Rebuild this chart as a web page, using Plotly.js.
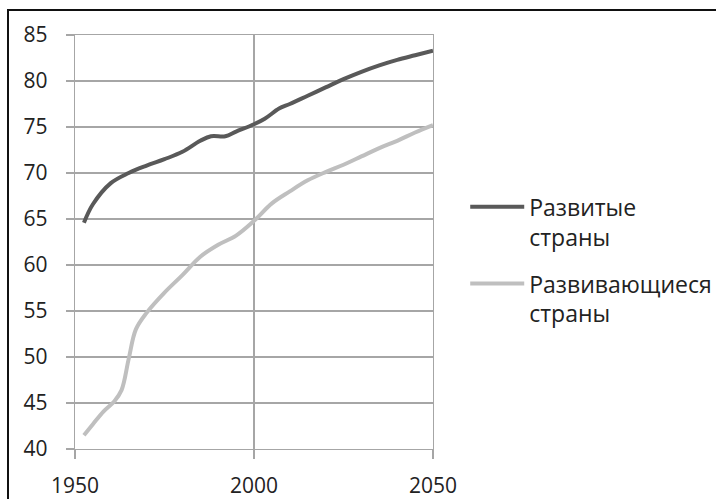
<!DOCTYPE html>
<html>
<head>
<meta charset="utf-8">
<script src="https://cdn.plot.ly/plotly-3.0.1.min.js"></script>
<style>
html,body{margin:0;padding:0;background:#fff;overflow:hidden;}
#chart{width:716px;height:499px;}
</style>
</head>
<body>
<div id="chart"></div>
<script>
// Data
const devYears = [1952.5, 1955, 1960, 1965, 1970, 1975, 1980, 1985, 1988, 1992, 1995, 2000, 2003, 2007, 2010, 2015, 2020, 2025, 2030, 2035, 2040, 2045, 2050];
const devValues = [64.6, 66.6, 68.9, 70.0, 70.8, 71.5, 72.3, 73.5, 74.0, 74.0, 74.5, 75.3, 75.9, 77.0, 77.5, 78.4, 79.3, 80.2, 81.0, 81.7, 82.3, 82.8, 83.3];

const dvgYears = [1952.5, 1955, 1958, 1961, 1963, 1965, 1967, 1970, 1975, 1980, 1985, 1990, 1995, 2000, 2005, 2010, 2015, 2020, 2025, 2030, 2035, 2040, 2045, 2050];
const dvgValues = [41.5, 42.7, 44.1, 45.2, 46.4, 49.8, 53.0, 54.8, 57.0, 58.9, 60.9, 62.2, 63.2, 64.8, 66.7, 68.0, 69.2, 70.1, 70.9, 71.8, 72.7, 73.5, 74.4, 75.2];

const seriesNames = ["Развитые<br>страны", "Развивающиеся<br>страны"];
const xTicks = [1950, 2000, 2050];
const yTicks = [40, 45, 50, 55, 60, 65, 70, 75, 80, 85];

const FONT = "Open Sans, Noto Sans, sans-serif";
const gridColor = "#a6a6a6";

const traces = [
  {x: devYears, y: devValues, name: seriesNames[0], mode: "lines", legendgroup: "g1",
   line: {color: "#595959", width: 4, shape: "spline"}},
  {x: dvgYears, y: dvgValues, name: seriesNames[1], mode: "lines", legendgroup: "g2",
   line: {color: "#bfbfbf", width: 4, shape: "spline"}}
];

const layout = {
  width: 716, height: 499,
  margin: {l: 75, r: 283, t: 35, b: 50, autoexpand: false},
  paper_bgcolor: "#fff", plot_bgcolor: "#fff",
  font: {family: FONT, size: 21, color: "#222"},
  showlegend: true,
  legend: {x: 1.09, y: 0.637, xanchor: "left", yanchor: "top",
           font: {family: FONT, size: 23, color: "#222"},
           traceorder: "grouped", tracegroupgap: 14,
           itemwidth: 54, valign: "top", bgcolor: "rgba(0,0,0,0)"},
  xaxis: {range: [1950, 2050], tickmode: "array", tickvals: xTicks,
          ticktext: xTicks.map(String),
          showgrid: true, gridcolor: gridColor, gridwidth: 1.3,
          showline: true, linecolor: gridColor, linewidth: 1.3, mirror: true,
          ticks: "outside", ticklen: 9, tickcolor: gridColor, tickwidth: 1.3,
          ticklabelstandoff: 8, zeroline: false, fixedrange: true},
  yaxis: {range: [40, 85], tickmode: "array", tickvals: yTicks,
          ticktext: yTicks.map(String),
          showgrid: true, gridcolor: gridColor, gridwidth: 1.3,
          showline: true, linecolor: gridColor, linewidth: 1.3, mirror: true,
          ticks: "outside", ticklen: 8, tickcolor: gridColor, tickwidth: 1.3,
          ticklabelstandoff: 14, zeroline: false, fixedrange: true},
  shapes: [
    {type: "rect", xref: "paper", yref: "paper",
     x0: (8 - 75) / 358, x1: (760 - 75) / 358,
     y0: -0.3, y1: 1 + (35 - 10) / 414,
     line: {color: "#111", width: 2}, fillcolor: "rgba(0,0,0,0)", layer: "above"}
  ]
};

Plotly.newPlot("chart", traces, layout, {displayModeBar: false, staticPlot: true});
</script>
</body>
</html>
